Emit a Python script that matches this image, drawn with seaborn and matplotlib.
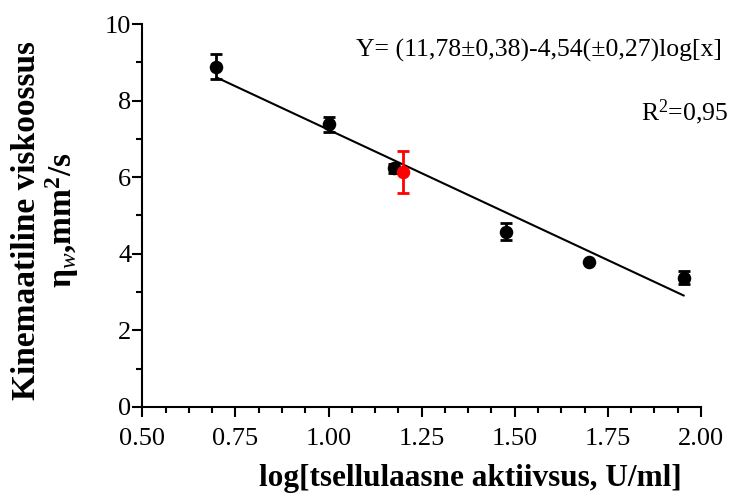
import numpy as np
import pandas as pd
import matplotlib
matplotlib.use("Agg")
import matplotlib.pyplot as plt
from matplotlib.ticker import MultipleLocator, AutoMinorLocator, FormatStrFormatter
import seaborn as sns

# Measured series (black) and the single highlighted sample (red)
log_activity = [0.699, 1.000, 1.176, 1.477, 1.699, 1.954]
viscosity = [8.89, 7.38, 6.23, 4.58, 3.78, 3.37]
viscosity_err = [0.33, 0.20, 0.12, 0.23, 0.0, 0.17]

red_log_activity = [1.20]
red_viscosity = [6.14]
red_err = [0.55]

# Linear fit reported on the chart
fit_intercept = 11.78
fit_slope = -4.54
fit_range = [0.699, 1.954]

x_ticks = [0.50, 0.75, 1.00, 1.25, 1.50, 1.75, 2.00]
y_ticks = [0, 2, 4, 6, 8, 10]

sns.set_theme(style="ticks")
plt.rcParams["font.family"] = ["Liberation Serif", "DejaVu Serif"]
plt.rcParams["mathtext.fontset"] = "custom"
plt.rcParams["mathtext.rm"] = "Liberation Serif"
plt.rcParams["mathtext.it"] = "Liberation Serif:italic"
plt.rcParams["mathtext.bf"] = "Liberation Serif:bold"

fig = plt.figure(figsize=(7.33, 4.97), dpi=100)
ax = fig.add_axes([0.1941, 0.1811, 0.7622, 0.7706])

df = pd.DataFrame({"x": log_activity, "y": viscosity, "err": viscosity_err})
df_red = pd.DataFrame({"x": red_log_activity, "y": red_viscosity, "err": red_err})

# regression line
fx = np.array(fit_range)
ax.plot(fx, fit_intercept + fit_slope * fx, color="black", lw=1.5, zorder=2)

# error bars and points
ax.errorbar(df["x"], df["y"], yerr=df["err"], fmt="none", ecolor="black",
            elinewidth=2, capsize=4.5, capthick=2, zorder=3)
sns.scatterplot(data=df, x="x", y="y", ax=ax, color="black", s=95,
                edgecolor="black", linewidth=0, zorder=4, legend=False)
ax.errorbar(df_red["x"], df_red["y"], yerr=df_red["err"], fmt="none", ecolor="red",
            elinewidth=2, capsize=4.5, capthick=2, zorder=5)
sns.scatterplot(data=df_red, x="x", y="y", ax=ax, color="red", s=95,
                edgecolor="red", linewidth=0, zorder=6, legend=False)

ax.set_xlim(0.5, 2.0)
ax.set_ylim(0, 10)
ax.set_xticks(x_ticks)
ax.set_yticks(y_ticks)
ax.xaxis.set_major_formatter(FormatStrFormatter("%.2f"))
ax.xaxis.set_minor_locator(AutoMinorLocator(4))
ax.yaxis.set_minor_locator(MultipleLocator(1))

sns.despine(ax=ax)
for side in ("left", "bottom"):
    ax.spines[side].set_linewidth(1.5)
    ax.spines[side].set_color("black")

ax.tick_params(axis="both", which="major", length=7, width=1.5, color="black",
               labelsize=19, labelcolor="black", direction="out")
ax.tick_params(axis="both", which="minor", length=4, width=1.5, color="black",
               direction="out")
ax.tick_params(axis="y", which="major", pad=1)
ax.tick_params(axis="x", which="major", pad=8)

ax.set_xlabel("log[tsellulaasne aktiivsus, U/ml]", fontsize=22.5, fontweight="bold",
              color="black")
ax.xaxis.set_label_coords(0.588, -0.148)
ax.set_ylabel("Kinemaatiline viskoossus\n" + r"$\mathbf{\eta}_{\mathit{w}}$,mm$^{\mathbf{2}}$/s",
              fontsize=24, fontweight="bold", color="black", linespacing=1.05)
ax.yaxis.set_label_coords(-0.11, 0.488)

ax.text(1.038, 0.914, "Y= (11,78±0,38)-4,54(±0,27)log[x]", transform=ax.transAxes,
        ha="right", va="baseline", fontsize=18.5, color="black")
ax.text(1.05, 0.749, r"R$^2$=0,95", transform=ax.transAxes,
        ha="right", va="baseline", fontsize=18.5, color="black")

ax.grid(False)
ax.set_facecolor("white")
fig.patch.set_facecolor("white")
fig.savefig("out.png", dpi=100)
